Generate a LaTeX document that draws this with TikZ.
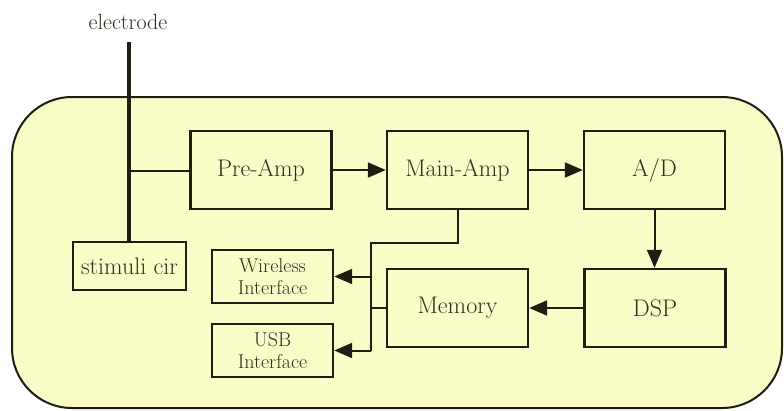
\documentclass[tikz,border=0pt]{standalone}
\usetikzlibrary{arrows.meta}
\definecolor{bg}{RGB}{250,252,200}
\definecolor{ln}{RGB}{28,30,20}
\definecolor{tx}{RGB}{45,48,30}
\begin{document}
\begin{tikzpicture}[x=1pt,y=-1pt,
  blk/.style={draw=ln,line width=2.4pt,fill=bg,text=tx,inner sep=0pt,
    font=\fontsize{24}{28}\selectfont},
  sblk/.style={draw=ln,line width=2.4pt,fill=bg,text=tx,inner sep=0pt,align=center,
    font=\fontsize{20}{21.5}\selectfont},
  conn/.style={draw=ln,line width=2pt},
  arr/.style={conn,-{Triangle[length=18pt,width=15pt]}}]
\useasboundingbox (0,0) rectangle (784,410);
\fill[white] (0,0) rectangle (784,410);
% outer housing
\draw[draw=ln,line width=2pt,fill=bg,rounded corners=60pt] (12,97) rectangle (782,408);
% blocks
\node[blk,minimum width=141pt,minimum height=78pt] (pre) at (261,170) {Pre-Amp};
\node[blk,minimum width=141pt,minimum height=78pt] (main) at (457.5,170) {Main-Amp};
\node[blk,minimum width=141pt,minimum height=78pt] (ad) at (654.5,170) {A/D};
\node[blk,minimum width=141pt,minimum height=78pt] (dsp) at (655,308) {DSP};
\node[blk,minimum width=141pt,minimum height=78pt] (mem) at (457.5,308) {Memory};
\node[blk,minimum width=113pt,minimum height=48pt] (stim) at (129.5,266) {stimuli cir};
\node[sblk,minimum width=121pt,minimum height=53pt] (wl) at (272.5,276.5) {Wireless\\Interface};
\node[sblk,minimum width=121pt,minimum height=53pt] (usb) at (272.5,350.5) {USB\\Interface};
% electrode
\node[text=tx,font=\fontsize{22}{26}\selectfont,inner sep=0pt] (el) at (128,22) {electrode};
\coordinate (etop) at (129,42);
\coordinate (j) at (129,171);
\draw[draw=ln,line width=4.5pt] (etop) -- (stim.north -| etop);
\draw[conn] (j) -- (pre.west |- j);
% signal chain
\draw[arr] (pre.east) -- (main.west);
\draw[arr] (main.east) -- (ad.west);
\draw[arr] (ad.south) -- (dsp.north -| ad.south);
\draw[arr] (dsp.west) -- (mem.west -| mem.east);
% output bus
\coordinate (m1) at (458,243);
\coordinate (bus) at (371,243);
\coordinate (bw) at (371,276.5);
\coordinate (bm) at (371,308);
\coordinate (bu) at (371,350.5);
\draw[conn,line join=miter] (main.south -| m1) -- (m1) -- (bus) -- (bu);
\draw[arr] (bu) -- (usb.east);
\draw[arr] (bw) -- (wl.east);
\draw[conn] (mem.west) -- (bm);
\end{tikzpicture}
\end{document}
